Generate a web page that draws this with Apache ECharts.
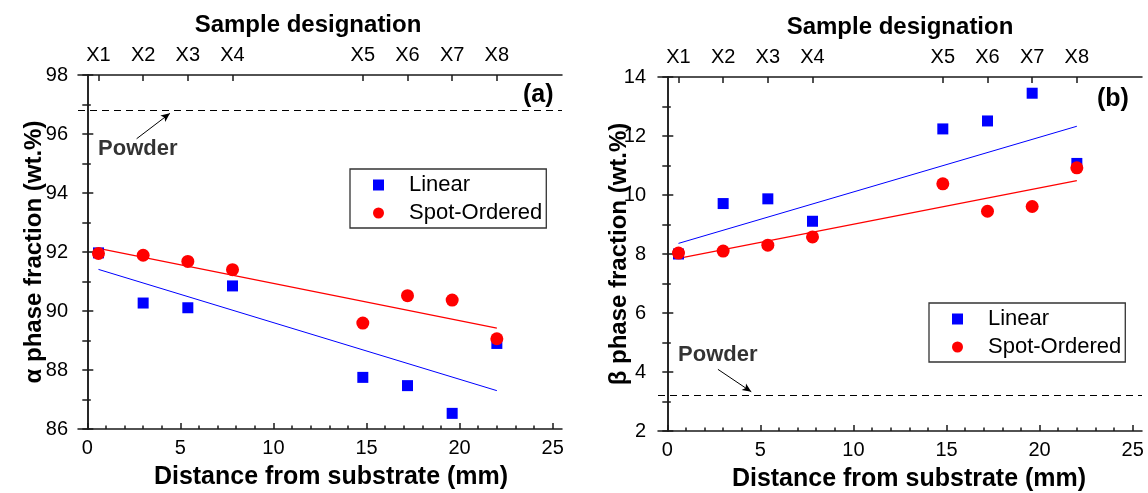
<!DOCTYPE html>
<html><head><meta charset="utf-8">
<script src="https://cdn.jsdelivr.net/npm/echarts@6/dist/echarts.min.js"></script>
<style>html,body{margin:0;padding:0;background:#fff}#c{width:1148px;height:493px}</style>
</head><body><div id="c"></div>
<script>
// ---- data ----
const sampleNames = ['X1','X2','X3','X4','X5','X6','X7','X8'];
const distance = [0.6, 3.0, 5.4, 7.8, 14.8, 17.2, 19.6, 22.0];
const alphaLinear = [91.97, 90.27, 90.11, 90.85, 87.75, 87.47, 86.53, 88.90];
const alphaSpot   = [91.95, 91.89, 91.68, 91.40, 89.59, 90.52, 90.37, 89.06];
const betaLinear  = [8.00, 9.71, 9.87, 9.11, 12.24, 12.51, 13.45, 11.07];
const betaSpot    = [8.03, 8.10, 8.30, 8.58, 10.38, 9.45, 9.61, 10.92];
const fitX = [0.6, 22.0];
const alphaLinearFit = [91.41, 87.30];
const alphaSpotFit   = [92.12, 89.42];
const betaLinearFit  = [8.36, 12.33];
const betaSpotFit    = [7.85, 10.49];
const alphaPowder = 96.8;
const betaPowder = 3.2;
const alphaArrow = [[2.65, 95.84], [4.44, 96.70]];
const betaArrow  = [[2.72, 4.09], [4.51, 3.33]];
const alphaPowderLabel = [0.55, 95.49];
const betaPowderLabel  = [0.55, 4.57];
const xTicks = [0, 5, 10, 15, 20, 25];
const xMinorTicks = [0,1,2,3,4,5,6,7,8,9,10,11,12,13,14,15,16,17,18,19,20,21,22,23,24,25];
const alphaTicks = [86, 88, 90, 92, 94, 96, 98];
const alphaMinorTicks = [87, 89, 91, 93, 95, 97];
const alphaAllTicks = [86,87,88,89,90,91,92,93,94,95,96,97,98];
const betaTicks = [2, 4, 6, 8, 10, 12, 14];
const betaMinorTicks = [3, 5, 7, 9, 11, 13];
const betaAllTicks = [2,3,4,5,6,7,8,9,10,11,12,13,14];

// ---- styles ----
const FONT = "'Liberation Sans', Arial, sans-serif";
const AX = { color: '#1a1a1a', width: 1.5 };
const BLUE = '#0000FF', RED = '#FF0000';
const zip = (xs, ys) => xs.map((x, i) => [x, ys[i]]);

function xAxesFor(g, titleShift) {
  return [
    { gridIndex: g, type: 'value', position: 'bottom', min: -0.5, max: 25.5,
      axisLine: { show: true, lineStyle: AX },
      axisTick: { show: true, inside: true, length: 6, customValues: xTicks, lineStyle: AX },
      axisLabel: { show: true, customValues: xTicks, fontSize: 20, fontFamily: FONT, color: '#000', margin: 9 },
      splitLine: { show: false },
      name: 'Distance from substrate (mm)', nameLocation: 'middle', nameGap: 36, nameMoveOverlap: false,
      nameTextStyle: { fontSize: 25, fontWeight: 'bold', fontFamily: FONT, color: '#000', padding: [0, 0, 0, titleShift] } },
    { gridIndex: g, type: 'value', position: 'bottom', min: -0.5, max: 25.5,
      axisLine: { show: false },
      axisTick: { show: true, inside: true, length: 3.5, customValues: xMinorTicks, lineStyle: AX },
      axisLabel: { show: false }, splitLine: { show: false } },
    { gridIndex: g, type: 'value', position: 'top', min: -0.5, max: 25.5,
      axisLine: { show: true, lineStyle: AX },
      axisTick: { show: true, inside: true, length: 6, customValues: distance, lineStyle: AX },
      axisLabel: { show: true, customValues: distance, fontSize: 20, fontFamily: FONT, color: '#000', margin: 10,
        formatter: v => { const i = distance.findIndex(d => Math.abs(d - v) < 1e-6); return i >= 0 ? sampleNames[i] : ''; } },
      splitLine: { show: false },
      name: 'Sample designation', nameLocation: 'middle', nameGap: 38, nameMoveOverlap: false,
      nameTextStyle: { fontSize: 24, fontWeight: 'bold', fontFamily: FONT, color: '#000',
        padding: g === 0 ? [0, 24, 0, 0] : [0, 0, 0, 0] } }
  ];
}
function yAxesFor(g, min, max, major, minor, all, title, gap, lblMargin) {
  return [
    { gridIndex: g, type: 'value', position: 'left', min: min, max: max,
      axisLine: { show: true, lineStyle: AX },
      axisTick: { show: true, inside: true, length: 6, customValues: major, lineStyle: AX },
      axisLabel: { show: true, customValues: major, fontSize: 20, fontFamily: FONT, color: '#000', margin: lblMargin },
      splitLine: { show: false },
      name: title, nameLocation: 'middle', nameGap: gap, nameMoveOverlap: false,
      nameTextStyle: { fontSize: 24, fontWeight: 'bold', fontFamily: FONT, color: '#000' } },
    { gridIndex: g, type: 'value', position: 'left', min: min, max: max,
      axisLine: { show: false },
      axisTick: { show: true, inside: true, length: 3.5, customValues: minor, lineStyle: AX },
      axisLabel: { show: false }, splitLine: { show: false } },
    { gridIndex: g, type: 'value', position: 'right', min: min, max: max,
      axisLine: { show: true, lineStyle: AX },
      axisTick: { show: true, inside: true, length: 5, customValues: all, lineStyle: AX },
      axisLabel: { show: false }, splitLine: { show: false } }
  ];
}

function panelSeries(g, lin, spot, linFit, spotFit, powder, arrow, labelPos) {
  const xi = g * 3, yi = g * 3;
  return [
    { name: 'Linear fit ' + g, type: 'line', xAxisIndex: xi, yAxisIndex: yi, data: zip(fitX, linFit),
      symbol: 'none', lineStyle: { color: BLUE, width: 1 }, z: 2, silent: true,
      markLine: { silent: true, animation: false, symbol: 'none', label: { show: false },
        data: [
          { yAxis: powder, lineStyle: { type: [7, 5], color: '#000', width: 1.2 } },
          [ { coord: arrow[0], symbol: 'none' }, { coord: arrow[1], symbol: 'arrow', symbolSize: [6, 9] } ]
        ],
        lineStyle: { color: '#000', width: 1, type: 'solid' } } },
    { name: 'Spot fit ' + g, type: 'line', xAxisIndex: xi, yAxisIndex: yi, data: zip(fitX, spotFit),
      symbol: 'none', lineStyle: { color: RED, width: 1.2 }, z: 2, silent: true },
    { name: 'Powder label ' + g, type: 'scatter', xAxisIndex: xi, yAxisIndex: yi, data: [labelPos],
      symbolSize: 1, itemStyle: { color: 'rgba(0,0,0,0)' }, silent: true,
      label: { show: true, position: 'right', distance: 0, formatter: 'Powder',
        fontSize: 22, fontWeight: 'bold', fontFamily: FONT, color: '#000' } },
    { name: 'Linear', type: 'scatter', xAxisIndex: xi, yAxisIndex: yi, data: zip(distance, lin),
      symbol: 'rect', symbolSize: 11, itemStyle: { color: BLUE, opacity: 1 }, z: 3 },
    { name: 'Spot-Ordered', type: 'scatter', xAxisIndex: xi, yAxisIndex: yi, data: zip(distance, spot),
      symbol: 'circle', symbolSize: 13, itemStyle: { color: RED, opacity: 1 }, z: 4 }
  ];
}

function legendAt(left, top) {
  return { left: left, top: top, orient: 'vertical', data: ['Linear', 'Spot-Ordered'],
    itemWidth: 11, itemHeight: 11, itemGap: 6, padding: [5, 4, 4, 23],
    borderColor: '#333', borderWidth: 1.3, backgroundColor: '#fff',
    selectedMode: false,
    itemStyle: { opacity: 1 },
    textStyle: { fontSize: 22, fontFamily: FONT, color: '#000', padding: [0, 0, 0, 20] } };
}

const chart = echarts.init(document.getElementById('c'), null, { renderer: 'canvas' });
chart.setOption({
  animation: false,
  backgroundColor: '#fff',
  title: [
    { text: '(a)', left: 523, top: 83, padding: 0, textStyle: { fontSize: 25, fontWeight: 'bold', fontFamily: FONT, color: '#000' } },
    { text: '(b)', left: 1097, top: 87, padding: 0, textStyle: { fontSize: 25, fontWeight: 'bold', fontFamily: FONT, color: '#000' } }
  ],
  grid: [
    { left: 78, top: 75, width: 484, height: 354, containLabel: false, outerBoundsMode: 'none' },
    { left: 658, top: 77, width: 484, height: 354, containLabel: false, outerBoundsMode: 'none' }
  ],
  legend: [ legendAt(350, 169), legendAt(929, 303) ],
  xAxis: [].concat(xAxesFor(0, 22), xAxesFor(1, 18)),
  yAxis: [].concat(
    yAxesFor(0, 86, 98, alphaTicks, alphaMinorTicks, alphaAllTicks, 'α phase fraction (wt.%)', 32, 10),
    yAxesFor(1, 2, 14, betaTicks, betaMinorTicks, betaAllTicks, 'β phase fraction (wt.%)', 27, 12)),
  series: [].concat(
    panelSeries(0, alphaLinear, alphaSpot, alphaLinearFit, alphaSpotFit, alphaPowder, alphaArrow, alphaPowderLabel),
    panelSeries(1, betaLinear, betaSpot, betaLinearFit, betaSpotFit, betaPowder, betaArrow, betaPowderLabel))
});
</script></body></html>
